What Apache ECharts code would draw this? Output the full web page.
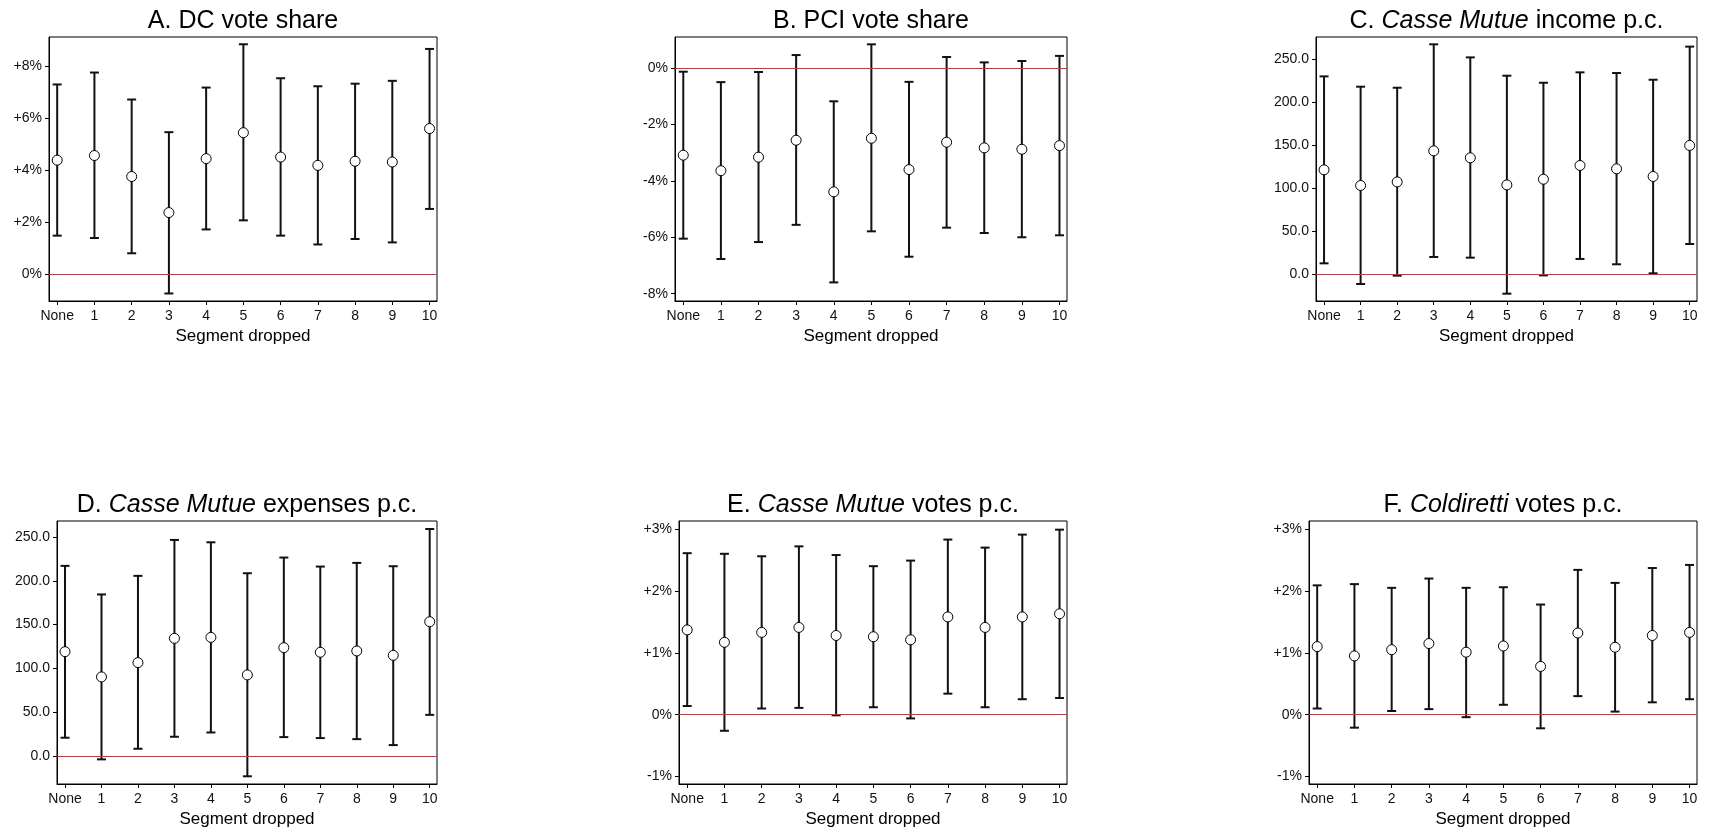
<!DOCTYPE html>
<html>
<head>
<meta charset="utf-8">
<script src="https://cdn.jsdelivr.net/npm/echarts@6/dist/echarts.min.js"></script>
<style>
html,body{margin:0;padding:0;background:#fff;}
#chart{width:1716px;height:833px;}
</style>
</head>
<body>
<div id="chart"></div>
<script>
// ---- Data ----
const categories = ['None','1','2','3','4','5','6','7','8','9','10'];

const A_est = [4.39,4.57,3.76,2.37,4.45,5.45,4.51,4.19,4.35,4.32,5.61];
const A_lo  = [1.48,1.39,0.80,-0.75,1.72,2.07,1.48,1.14,1.35,1.22,2.51];
const A_hi  = [7.31,7.77,6.73,5.47,7.19,8.86,7.55,7.24,7.34,7.45,8.68];

const B_est = [-3.09,-3.64,-3.16,-2.56,-4.39,-2.49,-3.60,-2.63,-2.83,-2.88,-2.75];
const B_lo  = [-6.05,-6.77,-6.17,-5.56,-7.60,-5.79,-6.69,-5.66,-5.85,-6.00,-5.93];
const B_hi  = [-0.13,-0.50,-0.14,0.46,-1.18,0.84,-0.49,0.39,0.20,0.25,0.43];

const C_est = [121.1,102.9,107.1,143.2,135.1,103.6,110.2,126.2,122.3,113.4,149.5];
const C_lo  = [12.4,-11.6,-1.9,19.8,19.0,-22.9,-1.6,17.5,11.3,0.8,34.9];
const C_hi  = [229.8,217.8,216.6,267.1,251.9,230.6,222.4,234.5,233.7,225.9,264.4];

const D_est = [119.1,90.3,106.6,134.3,135.4,92.6,123.7,118.4,119.9,114.9,153.3];
const D_lo  = [20.9,-3.8,8.3,22.0,26.9,-23.1,21.6,20.5,19.3,12.5,47.0];
const D_hi  = [217.0,184.4,205.6,246.6,243.9,208.6,226.5,216.2,220.4,216.6,259.1];

const E_est = [1.37,1.17,1.33,1.41,1.28,1.26,1.21,1.58,1.41,1.58,1.63];
const E_lo  = [0.14,-0.26,0.10,0.11,-0.01,0.12,-0.06,0.34,0.12,0.25,0.27];
const E_hi  = [2.61,2.60,2.56,2.72,2.58,2.40,2.49,2.83,2.70,2.91,2.99];

const F_est = [1.10,0.95,1.05,1.15,1.01,1.11,0.78,1.32,1.09,1.28,1.33];
const F_lo  = [0.10,-0.21,0.06,0.09,-0.04,0.16,-0.22,0.30,0.05,0.20,0.25];
const F_hi  = [2.09,2.11,2.05,2.20,2.05,2.06,1.78,2.34,2.13,2.37,2.42];

const A_ticks = [0,2,4,6,8];
const B_ticks = [-8,-6,-4,-2,0];
const C_ticks = [0,50,100,150,200,250];
const D_ticks = [0,50,100,150,200,250];
const E_ticks = [-1,0,1,2,3];
const F_ticks = [-1,0,1,2,3];

const xTitle = 'Segment dropped';

// ---- Layout / styling ----
const FONT = "'Liberation Sans', Arial, sans-serif";
const pctFmt = v => (v > 0 ? '+' : '') + v + '%';
const numFmt = v => v.toFixed(1);

const panels = [
  {title:'{n|A. DC vote share}', est:A_est, lo:A_lo, hi:A_hi, ticks:A_ticks, fmt:pctFmt, ymin:-1.04, ymax:9.14,
   grid:{left:49, top:37, width:388, height:264}},
  {title:'{n|B. PCI vote share}', est:B_est, lo:B_lo, hi:B_hi, ticks:B_ticks, fmt:pctFmt, ymin:-8.26, ymax:1.10,
   grid:{left:675, top:37, width:392, height:264}},
  {title:'{n|C. }{i|Casse Mutue}{n| income p.c.}', est:C_est, lo:C_lo, hi:C_hi, ticks:C_ticks, fmt:numFmt, ymin:-31.4, ymax:275.6,
   grid:{left:1316, top:37, width:381, height:264}},
  {title:'{n|D. }{i|Casse Mutue}{n| expenses p.c.}', est:D_est, lo:D_lo, hi:D_hi, ticks:D_ticks, fmt:numFmt, ymin:-31.9, ymax:268.2,
   grid:{left:57, top:521, width:380, height:263}},
  {title:'{n|E. }{i|Casse Mutue}{n| votes p.c.}', est:E_est, lo:E_lo, hi:E_hi, ticks:E_ticks, fmt:pctFmt, ymin:-1.12, ymax:3.13,
   grid:{left:679, top:521, width:388, height:263}},
  {title:'{n|F. }{i|Coldiretti}{n| votes p.c.}', est:F_est, lo:F_lo, hi:F_hi, ticks:F_ticks, fmt:pctFmt, ymin:-1.12, ymax:3.13,
   grid:{left:1309, top:521, width:388, height:263}}
];

const xIdx = categories.map((c, i) => i);

function renderErr(params, api) {
  const x = api.value(0), lo = api.value(1), hi = api.value(2);
  const pLo = api.coord([x, lo]);
  const pHi = api.coord([x, hi]);
  const hw = 4.5;
  const style = {stroke:'#111', lineWidth:2, fill:null};
  return {type:'group', children:[
    {type:'line', shape:{x1:pLo[0], y1:pLo[1], x2:pHi[0], y2:pHi[1]}, style},
    {type:'line', shape:{x1:pLo[0]-hw, y1:pLo[1], x2:pLo[0]+hw, y2:pLo[1]}, style},
    {type:'line', shape:{x1:pHi[0]-hw, y1:pHi[1], x2:pHi[0]+hw, y2:pHi[1]}, style}
  ]};
}

const option = {
  backgroundColor:'#fff',
  animation:false,
  title:[], grid:[], xAxis:[], yAxis:[], series:[]
};

panels.forEach((p, k) => {
  const g = p.grid;
  option.grid.push({left:g.left, top:g.top, width:g.width, height:g.height,
    show:true, borderColor:'#000', borderWidth:1, backgroundColor:'#fff', containLabel:false});
  option.title.push({
    text:p.title, left:g.left + g.width/2, top:g.top - 28, textAlign:'center', padding:0,
    textStyle:{fontFamily:FONT, fontSize:25, fontWeight:'normal', color:'#000',
      rich:{
        n:{fontFamily:FONT, fontSize:25, color:'#000'},
        i:{fontFamily:FONT, fontSize:25, color:'#000', fontStyle:'italic'}
      }}
  });
  option.xAxis.push({
    type:'value', gridIndex:k, min:-0.22, max:10.2,
    name:xTitle, nameLocation:'middle', nameGap:27,
    nameTextStyle:{fontFamily:FONT, fontSize:17, color:'#000'},
    axisLine:{show:true, onZero:false, lineStyle:{color:'#000', width:1}},
    axisTick:{show:true, length:4, lineStyle:{color:'#000'}, customValues:xIdx},
    axisLabel:{show:true, fontFamily:FONT, fontSize:14, color:'#111', margin:8,
      customValues:xIdx, formatter:v => categories[Math.round(v)]},
    splitLine:{show:false}
  });
  option.yAxis.push({
    type:'value', gridIndex:k, min:p.ymin, max:p.ymax,
    axisLine:{show:true, onZero:false, lineStyle:{color:'#000', width:1}},
    axisTick:{show:true, length:4, lineStyle:{color:'#000'}, customValues:p.ticks},
    axisLabel:{show:true, fontFamily:FONT, fontSize:14, color:'#111', margin:7,
      customValues:p.ticks, formatter:p.fmt},
    splitLine:{show:false}
  });
  option.series.push({
    type:'line', xAxisIndex:k, yAxisIndex:k, data:[], silent:true, z:1,
    markLine:{silent:true, symbol:'none', animation:false, label:{show:false},
      lineStyle:{color:'#ff2020', width:1, type:'solid'},
      data:[{yAxis:0}]}
  });
  option.series.push({
    type:'custom', xAxisIndex:k, yAxisIndex:k, z:2, silent:true,
    renderItem:renderErr, encode:{x:0, y:[1,2]},
    data:xIdx.map(i => [i, p.lo[i], p.hi[i]])
  });
  option.series.push({
    type:'scatter', xAxisIndex:k, yAxisIndex:k, z:3, silent:true,
    symbol:'circle', symbolSize:10,
    itemStyle:{color:'#fff', borderColor:'#000', borderWidth:1, opacity:1},
    data:xIdx.map(i => [i, p.est[i]])
  });
});

const chart = echarts.init(document.getElementById('chart'), null, {renderer:'canvas'});
chart.setOption(option);
</script>
</body>
</html>
